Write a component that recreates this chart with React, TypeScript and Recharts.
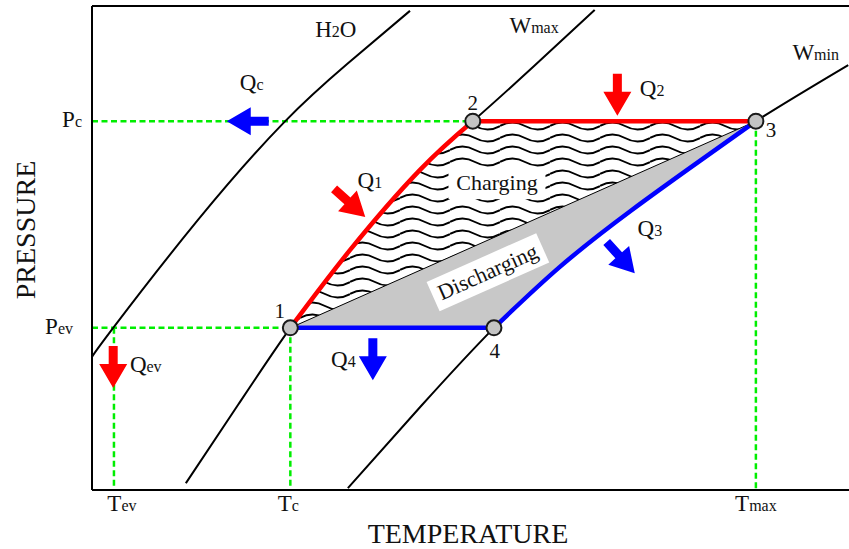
import React from 'react';
import {
  ComposedChart,
  Line,
  Area,
  Scatter,
  XAxis,
  YAxis,
  ReferenceLine,
  ReferenceDot,
  Label,
} from 'recharts';

// ---------------- data (schematic units: T 0..100, P 0..100) ----------------
const T_TICKS = [2.9, 26.2, 87.7];
const T_TICK_SUBS = ['ev', 'c', 'max'];
const P_TICKS = [33.5, 76.2];
const P_TICK_SUBS = ['ev', 'c'];

const h2oIsostere = [
  { T: 0, P: 27.5 },
  { T: 2.8, P: 33.5 },
  { T: 14.0, P: 55.8 },
  { T: 25.4, P: 76.0 },
  { T: 33.7, P: 88.0 },
  { T: 42.0, P: 99.0 },
];
const wmaxIsostere = [
  { T: 12.4, P: 1.4 },
  { T: 19.3, P: 17.6 },
  { T: 26.2, P: 33.5 },
  { T: 34.1, P: 49.6 },
  { T: 43.3, P: 66.1 },
  { T: 50.3, P: 76.2 },
  { T: 58.4, P: 87.6 },
  { T: 66.4, P: 99.2 },
];
const wminIsostere = [
  { T: 33.8, P: 0.4 },
  { T: 43.5, P: 17.4 },
  { T: 53.1, P: 33.5 },
  { T: 61.8, P: 46.1 },
  { T: 71.1, P: 57.6 },
  { T: 80.3, P: 68.0 },
  { T: 87.7, P: 76.2 },
  { T: 99.9, P: 87.8 },
];
const cyclePoints = [
  { T: 26.2, P: 33.5 },
  { T: 50.3, P: 76.2 },
  { T: 87.7, P: 76.2 },
  { T: 53.1, P: 33.5 },
];
const q1Path = [
  { T: 26.2, P: 33.5 },
  { T: 34.1, P: 49.6 },
  { T: 43.3, P: 66.1 },
  { T: 50.3, P: 76.2 },
];
const q2Path = [
  { T: 50.3, P: 76.2 },
  { T: 87.7, P: 76.2 },
];
const q3Path = [
  { T: 53.1, P: 33.5 },
  { T: 61.8, P: 46.1 },
  { T: 71.1, P: 57.6 },
  { T: 80.3, P: 68.0 },
  { T: 87.7, P: 76.2 },
];
const q4Path = [
  { T: 26.2, P: 33.5 },
  { T: 53.1, P: 33.5 },
];
const chargingTop = [
  { T: 26.2, P: 33.5 },
  { T: 34.1, P: 49.6 },
  { T: 43.3, P: 66.1 },
  { T: 50.3, P: 76.2 },
  { T: 87.7, P: 76.2 },
];
const dischargingTop = [
  { T: 26.2, P: 33.5 },
  { T: 87.7, P: 76.2 },
];
const P_EV = 33.5;
const P_C = 76.2;
const T_EV = 2.9;
const T_C = 26.2;
const T_MAX = 87.7;

const heatArrows = [
  { name: 'Qc', T: 17.8, P: 76.2, angle: 180, kind: 'out' },
  { name: 'Q2', T: 69.4, P: 77.3, angle: 90, kind: 'in' },
  { name: 'Qev', T: 2.8, P: 21.1, angle: 90, kind: 'in' },
  { name: 'Q4', T: 37.1, P: 22.7, angle: 90, kind: 'out' },
  { name: 'Q1', T: 36.1, P: 56.4, angle: 42, kind: 'in' },
  { name: 'Q3', T: 71.7, P: 44.8, angle: 48, kind: 'out' },
];

const annotationTexts: { parts: [string, boolean][]; T: number; P: number; num?: boolean }[] = [
  { parts: [['1', false]], T: 24.8, P: 35.5, num: true },
  { parts: [['2', false]], T: 50.3, P: 78.5, num: true },
  { parts: [['3', false]], T: 89.7, P: 72.9, num: true },
  { parts: [['4', false]], T: 53.2, P: 27.3, num: true },
  { parts: [['H', false], ['2', true], ['O', false]], T: 32.2, P: 93.6 },
  { parts: [['W', false], ['max', true]], T: 58.4, P: 94.4 },
  { parts: [['W', false], ['min', true]], T: 95.6, P: 88.8 },
  { parts: [['Q', false], ['c', true]], T: 21.1, P: 82.6 },
  { parts: [['Q', false], ['2', true]], T: 74.0, P: 81.4 },
  { parts: [['Q', false], ['1', true]], T: 36.7, P: 62.4 },
  { parts: [['Q', false], ['3', true]], T: 73.7, P: 52.5 },
  { parts: [['Q', false], ['4', true]], T: 33.2, P: 25.4 },
  { parts: [['Q', false], ['ev', true]], T: 7.1, P: 24.4 },
];

const boxedTexts = [
  { text: 'Charging', T: 53.5, P: 63.4, angle: 0, w: 97, h: 32 },
  { text: 'Discharging', T: 52.3, P: 45.0, angle: -24, w: 120, h: 32 },
];

// ---------------- styles ----------------
const FONT = "'Liberation Serif', 'Times New Roman', serif";
const BIG = 23;
const SMALL = 16;
const TEXT = '#111';
const RED = '#ff0000';
const BLUE = '#0000ff';
const GREEN = '#00ee00';
const P_TICK_DX = [-19, -10];
const T_TICK_DX = [8, -2, 0];

const YTick = (props: any) => {
  const { x, y, payload } = props;
  const i = P_TICKS.indexOf(payload.value);
  if (i < 0) return null;
  return (
    <text x={x + P_TICK_DX[i]} y={y + 6} textAnchor="end" fontFamily={FONT} fill={TEXT}>
      <tspan fontSize={BIG}>P</tspan>
      <tspan fontSize={SMALL}>{P_TICK_SUBS[i]}</tspan>
    </text>
  );
};

const XTick = (props: any) => {
  const { x, y, payload } = props;
  const i = T_TICKS.indexOf(payload.value);
  if (i < 0) return null;
  return (
    <text x={x + T_TICK_DX[i]} y={y + 21} textAnchor="middle" fontFamily={FONT} fill={TEXT}>
      <tspan fontSize={BIG}>T</tspan>
      <tspan fontSize={SMALL}>{T_TICK_SUBS[i]}</tspan>
    </text>
  );
};

const Arrow = ({ cx, cy, angle, color }: any) => {
  if (cx == null || cy == null) return null;
  return (
    <polygon
      points="0,0 -24,-14 -24,-4.5 -42,-4.5 -42,4.5 -24,4.5 -24,14"
      fill={color}
      transform={`translate(${cx} ${cy}) rotate(${angle})`}
    />
  );
};

const RichText = ({ cx, cy, parts, num }: any) => {
  if (cx == null || cy == null) return null;
  return (
    <text x={cx} y={cy} textAnchor="middle" fontFamily={FONT} fill={TEXT}>
      {parts.map((p: [string, boolean], k: number) => (
        <tspan key={k} fontSize={p[1] ? SMALL : num ? 21 : BIG}>
          {p[0]}
        </tspan>
      ))}
    </text>
  );
};

const BoxedText = ({ cx, cy, text, angle, w, h }: any) => {
  if (cx == null || cy == null) return null;
  return (
    <g transform={`rotate(${angle} ${cx} ${cy})`}>
      <rect x={cx - w / 2} y={cy - h / 2} width={w} height={h} fill="#fff" />
      <text x={cx} y={cy + 7} textAnchor="middle" fontFamily={FONT} fontSize={22} fill={TEXT}>
        {text}
      </text>
    </g>
  );
};

const XTitle = (props: any) => {
  const vb = props.viewBox || { x: 92, y: 490 };
  return (
    <text x={vb.x + 376} y={vb.y + 53} textAnchor="middle" fontFamily={FONT} fontSize={28} fill={TEXT}>
      TEMPERATURE
    </text>
  );
};

const YTitle = (props: any) => {
  const vb = props.viewBox || { x: 0, y: 6 };
  const x = vb.x + 35;
  const y = vb.y + 224;
  return (
    <text
      x={x}
      y={y}
      textAnchor="middle"
      fontFamily={FONT}
      fontSize={28}
      fill={TEXT}
      transform={`rotate(-90 ${x} ${y})`}
    >
      PRESSURE
    </text>
  );
};

const isoStyle = { stroke: '#000', strokeWidth: 2 };

export default function App() {
  return (
    <div style={{ position: 'absolute', left: 0, top: 0, width: 849, height: 549, background: '#fff' }}>
      <ComposedChart width={849} height={549} margin={{ top: 6, right: 0, bottom: 0, left: 0 }}>
        <defs>
          <pattern id="chargeWaves" patternUnits="userSpaceOnUse" x={0} y={0} width={50} height={12}>
            <path d="M0 6 Q12.5 -1 25 6 T50 6" fill="none" stroke="#000" strokeWidth={2} />
          </pattern>
        </defs>
        <XAxis
          dataKey="T"
          type="number"
          domain={[0, 100]}
          ticks={T_TICKS}
          tick={<XTick />}
          tickLine={false}
          tickSize={0}
          tickMargin={0}
          height={59}
          axisLine={{ stroke: '#000', strokeWidth: 2 }}
          allowDataOverflow
        >
          <Label content={<XTitle />} />
        </XAxis>
        <YAxis
          dataKey="P"
          type="number"
          domain={[0, 100]}
          ticks={P_TICKS}
          tick={<YTick />}
          tickLine={false}
          tickSize={0}
          tickMargin={0}
          width={92}
          axisLine={{ stroke: '#000', strokeWidth: 2 }}
          allowDataOverflow
        >
          <Label content={<YTitle />} />
        </YAxis>

        <Area
          data={chargingTop}
          dataKey="P"
          type="linear"
          baseValue={P_EV}
          fill="url(#chargeWaves)"
          fillOpacity={1}
          stroke="none"
          isAnimationActive={false}
          dot={false}
          activeDot={false}
        />
        <Area
          data={dischargingTop}
          dataKey="P"
          type="linear"
          baseValue={P_EV}
          fill="#c8c8c8"
          fillOpacity={1}
          stroke="#000"
          strokeWidth={1}
          isAnimationActive={false}
          dot={false}
          activeDot={false}
        />
        <Area
          data={q3Path}
          dataKey="P"
          type="natural"
          baseValue={P_EV - 0.6}
          fill="#fff"
          fillOpacity={1}
          stroke="none"
          isAnimationActive={false}
          dot={false}
          activeDot={false}
        />

        <ReferenceLine y={100} stroke="#000" strokeWidth={2} />
        <ReferenceLine segment={[{ x: 0, y: P_C }, { x: 50.3, y: P_C }]} stroke={GREEN} strokeWidth={2.5} strokeDasharray="6 3.5" />
        <ReferenceLine segment={[{ x: 0, y: P_EV }, { x: T_C, y: P_EV }]} stroke={GREEN} strokeWidth={2.5} strokeDasharray="6 3.5" />
        <ReferenceLine segment={[{ x: T_EV, y: P_EV }, { x: T_EV, y: 0 }]} stroke={GREEN} strokeWidth={2.5} strokeDasharray="6 3.5" />
        <ReferenceLine segment={[{ x: T_C, y: P_EV }, { x: T_C, y: 0 }]} stroke={GREEN} strokeWidth={2.5} strokeDasharray="6 3.5" />
        <ReferenceLine segment={[{ x: T_MAX, y: P_C }, { x: T_MAX, y: 0 }]} stroke={GREEN} strokeWidth={2.5} strokeDasharray="6 3.5" />

        <Line data={h2oIsostere} dataKey="P" type="natural" {...isoStyle} dot={false} activeDot={false} isAnimationActive={false} />
        <Line data={wmaxIsostere} dataKey="P" type="natural" {...isoStyle} dot={false} activeDot={false} isAnimationActive={false} />
        <Line data={wminIsostere} dataKey="P" type="natural" {...isoStyle} dot={false} activeDot={false} isAnimationActive={false} />

        <Line data={q1Path} dataKey="P" type="natural" stroke={RED} strokeWidth={4.5} dot={false} activeDot={false} isAnimationActive={false} />
        <Line data={q2Path} dataKey="P" type="linear" stroke={RED} strokeWidth={4.5} dot={false} activeDot={false} isAnimationActive={false} />
        <Line data={q3Path} dataKey="P" type="natural" stroke={BLUE} strokeWidth={4.5} dot={false} activeDot={false} isAnimationActive={false} />
        <Line data={q4Path} dataKey="P" type="linear" stroke={BLUE} strokeWidth={4.5} dot={false} activeDot={false} isAnimationActive={false} />

        <Scatter
          data={cyclePoints}
          isAnimationActive={false}
          shape={(p: any) => <circle cx={p.cx} cy={p.cy} r={7.5} fill="#c4c4c4" stroke="#1a1a1a" strokeWidth={2} />}
        />

        {boxedTexts.map((b) => (
          <ReferenceDot
            key={b.text}
            x={b.T}
            y={b.P}
            r={0}
            shape={(p: any) => <BoxedText cx={p.cx} cy={p.cy} text={b.text} angle={b.angle} w={b.w} h={b.h} />}
          />
        ))}
        {heatArrows.map((a) => (
          <ReferenceDot
            key={a.name}
            x={a.T}
            y={a.P}
            r={0}
            shape={(p: any) => <Arrow cx={p.cx} cy={p.cy} angle={a.angle} color={a.kind === 'in' ? RED : BLUE} />}
          />
        ))}
        {annotationTexts.map((t, k) => (
          <ReferenceDot
            key={k}
            x={t.T}
            y={t.P}
            r={0}
            shape={(p: any) => <RichText cx={p.cx} cy={p.cy} parts={t.parts} num={t.num} />}
          />
        ))}
      </ComposedChart>
    </div>
  );
}
